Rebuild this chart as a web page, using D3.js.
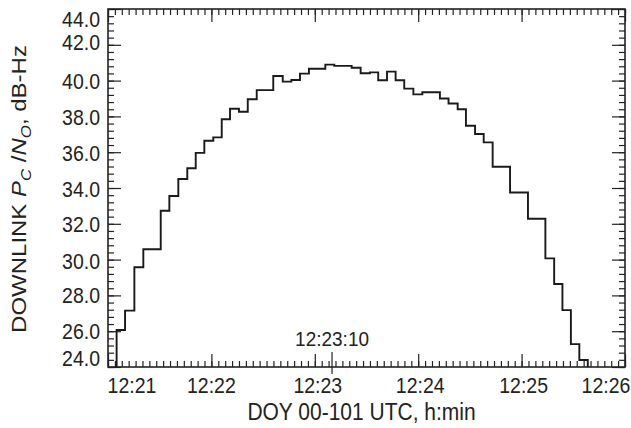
<!DOCTYPE html>
<html>
<head>
<meta charset="utf-8">
<script src="https://cdn.jsdelivr.net/npm/d3@7"></script>
<style>
  body { margin: 0; background: #fff; }
  text { font-family: "Liberation Sans", Arial, Helvetica, sans-serif; fill: #222; }
</style>
</head>
<body>
<div class="chart"></div>
<script>
// step edges, seconds after 12:21:00
var stepTimes = [5.0, 9.9, 15.3, 20.5, 30.6, 35.6, 40.8, 46.0, 50.9, 55.9,
  61.1, 66.0, 70.8, 76.0, 81.1, 86.3, 95.9, 101.4, 106.4, 111.4,
  116.6, 126.1, 131.3, 141.4, 146.6, 152.0, 156.8, 161.9, 166.9, 171.9,
  177.2, 182.4, 192.6, 197.6, 202.9, 207.7, 213.0, 218.0, 223.2, 233.3,
  243.7, 253.8, 258.9, 263.7, 268.6, 273.5, 278.4];

// Pc/No in each step, dB-Hz
var stepValues = [26.07, 27.15, 29.57, 30.58, 32.73, 33.55, 34.50, 35.10, 35.96, 36.64,
  36.83, 37.84, 38.43, 38.26, 38.96, 39.47, 40.26, 39.94, 40.03, 40.39,
  40.66, 40.89, 40.82, 40.72, 40.41, 40.46, 40.02, 40.50, 40.02, 39.55,
  39.23, 39.35, 39.00, 38.72, 38.40, 37.48, 37.02, 36.55, 35.19, 33.75,
  32.28, 30.07, 28.64, 27.18, 25.28, 24.39];

var xTickLabels = ["12:21", "12:22", "12:23", "12:24", "12:25", "12:26"];
var yTickLabels = ["24.0", "26.0", "28.0", "30.0", "32.0", "34.0", "36.0", "38.0", "40.0", "42.0", "44.0"];

var markerTime = 130;          // 12:23:10
var markerLabel = "12:23:10";
var baseValue = 24.0;

var svgWidth = 631, svgHeight = 428;
var margin = { top: 9, right: 6, bottom: 61, left: 108 };
var chartWidth = svgWidth - margin.left - margin.right;
var chartHeight = svgHeight - margin.top - margin.bottom;

// the original lettering is a bit taller than it is wide
var stretch = 1.1;

var svg = d3.select(".chart").append("svg")
  .attr("width", svgWidth)
  .attr("height", svgHeight);

var chartGroup = svg.append("g")
  .attr("transform", `translate(${margin.left}, ${margin.top})`);

var xScale = d3.scaleLinear().domain([0, 300]).range([0, chartWidth]);
var yScale = d3.scaleLinear().domain([24, 44]).range([chartHeight, 0]);

var xMajor = xTickLabels.map((d, i) => i * 60);
var xMinor = d3.range(0, 301, 4);
var yMajor = yTickLabels.map(d => +d);
var yMinor = d3.range(0, 51).map(i => 24 + i * 0.4);

function tickAxis(axis, values, size) {
  return axis.tickValues(values).tickSize(size).tickFormat("");
}

// inward ticks on all four sides
[[d3.axisBottom, `translate(0, ${chartHeight})`, xMinor, xMajor, xScale],
 [d3.axisTop, "translate(0, 0)", xMinor, xMajor, xScale],
 [d3.axisLeft, "translate(0, 0)", yMinor, yMajor, yScale],
 [d3.axisRight, `translate(${chartWidth}, 0)`, yMinor, yMajor, yScale]].forEach(function (a) {
  chartGroup.append("g").attr("transform", a[1]).call(tickAxis(a[0](a[4]), a[2], -6));
  chartGroup.append("g").attr("transform", a[1]).call(tickAxis(a[0](a[4]), a[3], -13));
});
chartGroup.selectAll(".domain").remove();
chartGroup.selectAll(".tick line").attr("stroke", "#222").attr("stroke-width", 1.2);

// 12:23:10 marker tick
chartGroup.append("line")
  .attr("x1", xScale(markerTime)).attr("x2", xScale(markerTime))
  .attr("y1", chartHeight - 15).attr("y2", chartHeight + 7)
  .attr("stroke", "#222").attr("stroke-width", 1.2);

chartGroup.append("text")
  .attr("transform", `translate(${xScale(markerTime)}, ${chartHeight - 21}) scale(1, ${stretch})`)
  .attr("text-anchor", "middle")
  .style("font-size", "19px")
  .text(markerLabel);

// frame
chartGroup.append("rect")
  .attr("width", chartWidth).attr("height", chartHeight)
  .attr("fill", "none").attr("stroke", "#222").attr("stroke-width", 1.6);

// tick labels (end labels are pulled inward like the original)
var xShift = [24, 0, 3, 2, 2, -19];
chartGroup.selectAll(".x-label")
  .data(xTickLabels)
  .enter().append("text")
  .attr("class", "x-label")
  .attr("transform", (d, i) => `translate(${xScale(xMajor[i]) + xShift[i]}, ${chartHeight + 26}) scale(1, ${stretch})`)
  .attr("text-anchor", "middle")
  .style("font-size", "19.5px")
  .text(d => d);

var yShift = [-9, 0, 0, 2, 1, 1, 1, 1, 1, -2, 10];
chartGroup.selectAll(".y-label")
  .data(yTickLabels)
  .enter().append("text")
  .attr("class", "y-label")
  .attr("transform", (d, i) => `translate(-8, ${yScale(yMajor[i]) + yShift[i]}) scale(1, ${stretch})`)
  .attr("dy", "0.35em")
  .attr("text-anchor", "end")
  .style("font-size", "19.5px")
  .text(d => d);

// step trace
var points = [[stepTimes[0], baseValue]];
stepValues.forEach(function (v, i) { points.push([stepTimes[i], v]); });
points.push([stepTimes[stepTimes.length - 1], stepValues[stepValues.length - 1]]);
points.push([stepTimes[stepTimes.length - 1], baseValue]);

var line = d3.line()
  .x(d => xScale(d[0]))
  .y(d => yScale(d[1]))
  .curve(d3.curveStepAfter);

chartGroup.append("path")
  .datum(points)
  .attr("d", line)
  .attr("fill", "none")
  .attr("stroke", "#1a1a1a")
  .attr("stroke-width", 1.9);

// axis titles
svg.append("text")
  .attr("transform", `translate(${margin.left + chartWidth / 2 - 5}, 420) scale(1, ${stretch})`)
  .attr("text-anchor", "middle")
  .style("font-size", "21px")
  .text("DOY 00-101 UTC, h:min");

var yTitle = svg.append("text")
  .attr("transform", "translate(26, 189) rotate(-90) scale(1.2, 1)")
  .attr("text-anchor", "middle")
  .style("font-size", "20px");
yTitle.append("tspan").text("DOWNLINK ");
yTitle.append("tspan").style("font-style", "italic").text("P");
yTitle.append("tspan").style("font-style", "italic").style("font-size", "14px").attr("dy", 5).text("C");
yTitle.append("tspan").attr("dy", -5).text(" /");
yTitle.append("tspan").style("font-style", "italic").text("N");
yTitle.append("tspan").style("font-style", "italic").style("font-size", "14px").attr("dy", 5).text("O");
yTitle.append("tspan").attr("dy", -5).text(", dB-Hz");
</script>
</body>
</html>
